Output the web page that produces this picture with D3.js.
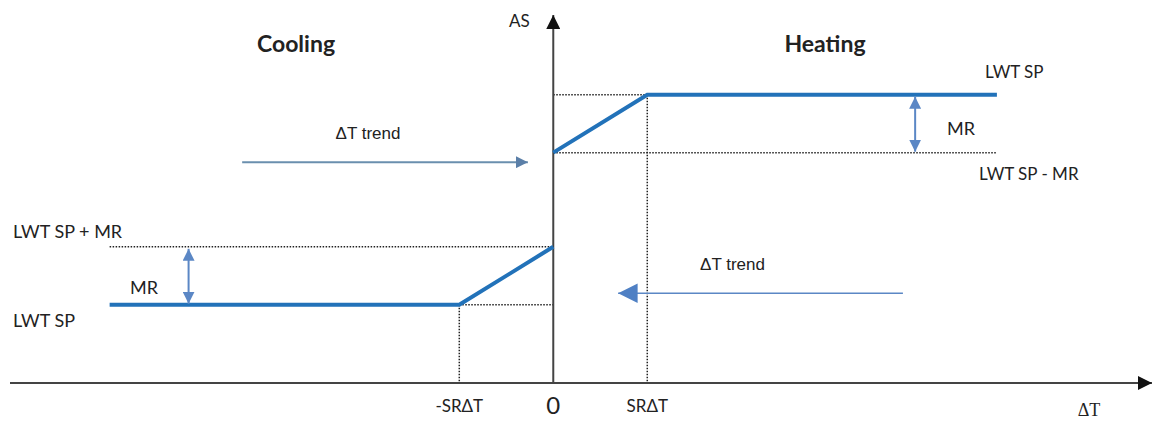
<!DOCTYPE html>
<html>
<head>
<meta charset="utf-8">
<script src="https://cdn.jsdelivr.net/npm/d3@7"></script>
<style>
  body { margin: 0; background: #fff; }
  text { font-family: Lato, "Open Sans", sans-serif; fill: #222; }
</style>
</head>
<body>
<div id="wrap"></div>
<script>
// ΔT in units of SRΔT, AS in arbitrary units
var xExtent = [-5.78, 6.37],
    yExtent = [0, 12.7];
var coolSP = 2.7, heatSP = 9.95, MR = 2, SR = 1, flatEnd = 4.72;

var heatingCurve = [[0, heatSP - MR], [SR, heatSP], [flatEnd, heatSP]];
var coolingCurve = [[-flatEnd, coolSP], [-SR, coolSP], [0, coolSP + MR]];

// dotted guides: [x1, y1, x2, y2]
var guides = [
  [0, heatSP, SR, heatSP],
  [0, heatSP - MR, flatEnd, heatSP - MR],
  [SR, heatSP, SR, 0],
  [-flatEnd, coolSP + MR, 0, coolSP + MR],
  [-SR, coolSP, 0, coolSP],
  [-SR, coolSP, -SR, 0]
];

var mrArrows = [[3.85, heatSP, heatSP - MR], [-3.88, coolSP + MR, coolSP]];
// [from, to, level]
var trendArrows = [[-3.31, -0.27, 7.62], [3.72, 0.69, 3.1]];

var tickLabels = [[-SR, "-SR\u0394T"], [0, "0"], [SR, "SR\u0394T"]];

var width = 1162, height = 423;

var svg = d3.select('#wrap').append('svg')
      .attr('width', width)
      .attr('height', height);

var x = d3.scaleLinear().domain(xExtent).range([10, 1152]),
    y = d3.scaleLinear().domain(yExtent).range([383, 15]);

var defs = svg.append('defs');
function head(id, size, color, orient) {
  defs.append('marker').attr('id', id)
      .attr('viewBox', '0 0 10 10').attr('refX', 10).attr('refY', 5)
      .attr('markerWidth', size).attr('markerHeight', size).attr('markerUnits', 'strokeWidth')
      .attr('orient', orient)
    .append('path').attr('d', 'M0,0L10,5L0,10Z').attr('fill', color);
}
head('axisHead', 7, '#111', 'auto');
head('mrHead', 6, '#5b87c5', 'auto-start-reverse');
head('trendSmall', 6, '#5b7fa8', 'auto');
head('trendBig', 13, '#4f80c4', 'auto');

// dotted guides
svg.selectAll('.guide')
  .data(guides)
  .enter().append('line')
    .attr('class', 'guide')
    .attr('x1', function(d){return x(d[0]);})
    .attr('y1', function(d){return y(d[1]);})
    .attr('x2', function(d){return x(d[2]);})
    .attr('y2', function(d){return y(d[3]);})
    .attr('stroke', '#222')
    .attr('stroke-width', 1.5)
    .attr('stroke-dasharray', '1.5,1.5');

// axes
svg.append('line')
    .attr('x1', x(xExtent[0])).attr('y1', y(0))
    .attr('x2', x(xExtent[1])).attr('y2', y(0))
    .attr('stroke', '#444').attr('stroke-width', 2)
    .attr('marker-end', 'url(#axisHead)');
svg.append('line')
    .attr('x1', x(0)).attr('y1', y(0))
    .attr('x2', x(0)).attr('y2', y(yExtent[1]))
    .attr('stroke', '#444').attr('stroke-width', 2)
    .attr('marker-end', 'url(#axisHead)');

// AS curves
var line = d3.line()
    .x(function(d){return x(d[0]);})
    .y(function(d){return y(d[1]);});

svg.selectAll('.curve')
  .data([heatingCurve, coolingCurve])
  .enter().append('path')
    .attr('class', 'curve')
    .attr('d', line)
    .attr('fill', 'none')
    .attr('stroke', '#2272b9')
    .attr('stroke-width', 4);

// MR arrows
svg.selectAll('.mr')
  .data(mrArrows)
  .enter().append('line')
    .attr('class', 'mr')
    .attr('x1', function(d){return x(d[0]);})
    .attr('y1', function(d){return y(d[1]) + 2;})
    .attr('x2', function(d){return x(d[0]);})
    .attr('y2', function(d){return y(d[2]) - 1;})
    .attr('stroke', '#5b87c5')
    .attr('stroke-width', 2)
    .attr('marker-start', 'url(#mrHead)')
    .attr('marker-end', 'url(#mrHead)');

// ΔT trend arrows
svg.selectAll('.trend')
  .data(trendArrows)
  .enter().append('line')
    .attr('class', 'trend')
    .attr('x1', function(d){return x(d[0]);})
    .attr('y1', function(d){return y(d[2]);})
    .attr('x2', function(d){return x(d[1]);})
    .attr('y2', function(d){return y(d[2]);})
    .attr('stroke', function(d, i){return i === 0 ? '#6a8fae' : '#5b87c5';})
    .attr('stroke-width', function(d, i){return i === 0 ? 2 : 1.5;})
    .attr('marker-end', function(d, i){return i === 0 ? 'url(#trendSmall)' : 'url(#trendBig)';});

// trend labels
svg.selectAll('.trendLabel')
  .data(trendArrows)
  .enter().append('text')
    .attr('x', function(d){return (x(d[0]) + x(d[1])) / 2 + (d[0] < 0 ? -17 : -28);})
    .attr('y', function(d){return y(d[2]) - 23;})
    .attr('text-anchor', 'middle')
    .style('font-family', '"Liberation Sans", Arial, sans-serif')
    .style('font-size', '17px')
    .text('\u0394T trend');

// tick labels
svg.selectAll('.tick')
  .data(tickLabels)
  .enter().append('text')
    .attr('x', function(d){return x(d[0]);})
    .attr('y', function(d){return d[0] === 0 ? 414 : 412;})
    .attr('text-anchor', 'middle')
    .style('font-size', function(d){return d[0] === 0 ? '24px' : '17px';})
    .text(function(d){return d[1];});

// other labels
svg.append('text').attr('x', 509).attr('y', 27).style('font-size', '17px').text('AS');
svg.append('text').attr('x', 1089).attr('y', 416).attr('text-anchor', 'middle')
    .style('font-family', '"Liberation Serif", serif').style('font-size', '18px').text('\u0394T');
svg.append('text').attr('x', 296).attr('y', 52).attr('text-anchor', 'middle')
    .style('font-size', '23px').style('font-weight', 'bold').text('Cooling');
svg.append('text').attr('x', 825).attr('y', 52).attr('text-anchor', 'middle')
    .style('font-size', '23px').style('font-weight', 'bold').text('Heating');

svg.append('text').attr('x', 985).attr('y', y(heatSP) - 17).style('font-size', '17px').text('LWT SP');
svg.append('text').attr('x', 947).attr('y', y(heatSP - MR) - 18).style('font-size', '18px').text('MR');
svg.append('text').attr('x', 979).attr('y', y(heatSP - MR) + 27).style('font-size', '17px').text('LWT SP - MR');
svg.append('text').attr('x', 13).attr('y', y(coolSP + MR) - 9).style('font-size', '18px').text('LWT SP + MR');
svg.append('text').attr('x', 130).attr('y', y(coolSP) - 11).style('font-size', '18px').text('MR');
svg.append('text').attr('x', 13).attr('y', y(coolSP) + 22).style('font-size', '18px').text('LWT SP');
</script>
</body>
</html>
